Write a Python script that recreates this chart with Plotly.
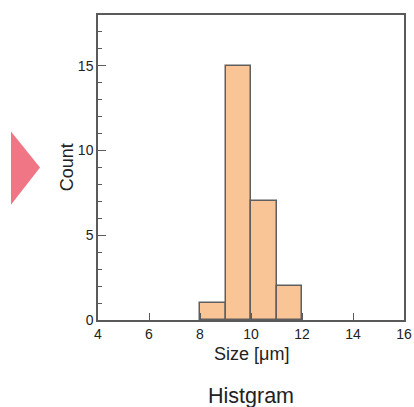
import plotly.graph_objects as go

bin_left_edges = [8, 9, 10, 11]
bin_width = 1
counts = [1, 15, 7, 2]
x_ticks = [4, 6, 8, 10, 12, 14, 16]
y_ticks = [0, 5, 10, 15]

centers = [e + bin_width / 2 for e in bin_left_edges]

FONT = "Liberation Sans, Arial, sans-serif"

fig = go.Figure()
fig.add_trace(go.Bar(
    x=centers, y=counts, width=[bin_width] * len(counts),
    marker=dict(color="#F9C496", line=dict(color="#5f5f5f", width=1.5)),
    showlegend=False, hoverinfo="skip",
))

axis_common = dict(
    showgrid=False, zeroline=False, showline=True, linecolor="#5a5a5a", linewidth=1.5,
    mirror=True, ticks="inside", tickcolor="#5a5a5a", tickwidth=1, automargin=False,
    tickfont=dict(family=FONT, size=14, color="#222"),
)

fig.update_xaxes(range=[4, 16], tickvals=x_ticks, ticklen=7, **axis_common)
fig.update_yaxes(
    range=[0, 18], tickvals=y_ticks, ticklen=8,
    minor=dict(dtick=1, ticks="inside", ticklen=4, tickcolor="#5a5a5a", tickwidth=1),
    **axis_common,
)

fig.add_shape(type="path", xref="paper", yref="paper",
              path="M -0.2843 0.618 L -0.1895 0.500 L -0.2843 0.378 Z",
              fillcolor="#F07686", line=dict(width=0))

fig.add_annotation(text="Size [μm]", xref="paper", yref="paper", x=0.5, y=-0.112,
                   xanchor="center", yanchor="middle", showarrow=False,
                   font=dict(family=FONT, size=18, color="#222"))
fig.add_annotation(text="Count", xref="paper", yref="paper", x=-0.1013, y=0.5008,
                   xanchor="center", yanchor="middle", showarrow=False, textangle=-90,
                   font=dict(family=FONT, size=18, color="#222"))
fig.add_annotation(text="Histgram", xref="paper", yref="paper", x=0.5, y=-0.249,
                   xanchor="center", yanchor="middle", showarrow=False,
                   font=dict(family=FONT, size=21.5, color="#222"))

fig.update_layout(
    width=414, height=407,
    margin=dict(l=98, r=10, t=15, b=86.5, autoexpand=False),
    plot_bgcolor="white", paper_bgcolor="white",
    bargap=0,
)

fig.write_html("out.html", config={"displayModeBar": False},
               post_script="document.body.style.margin='0px';")
